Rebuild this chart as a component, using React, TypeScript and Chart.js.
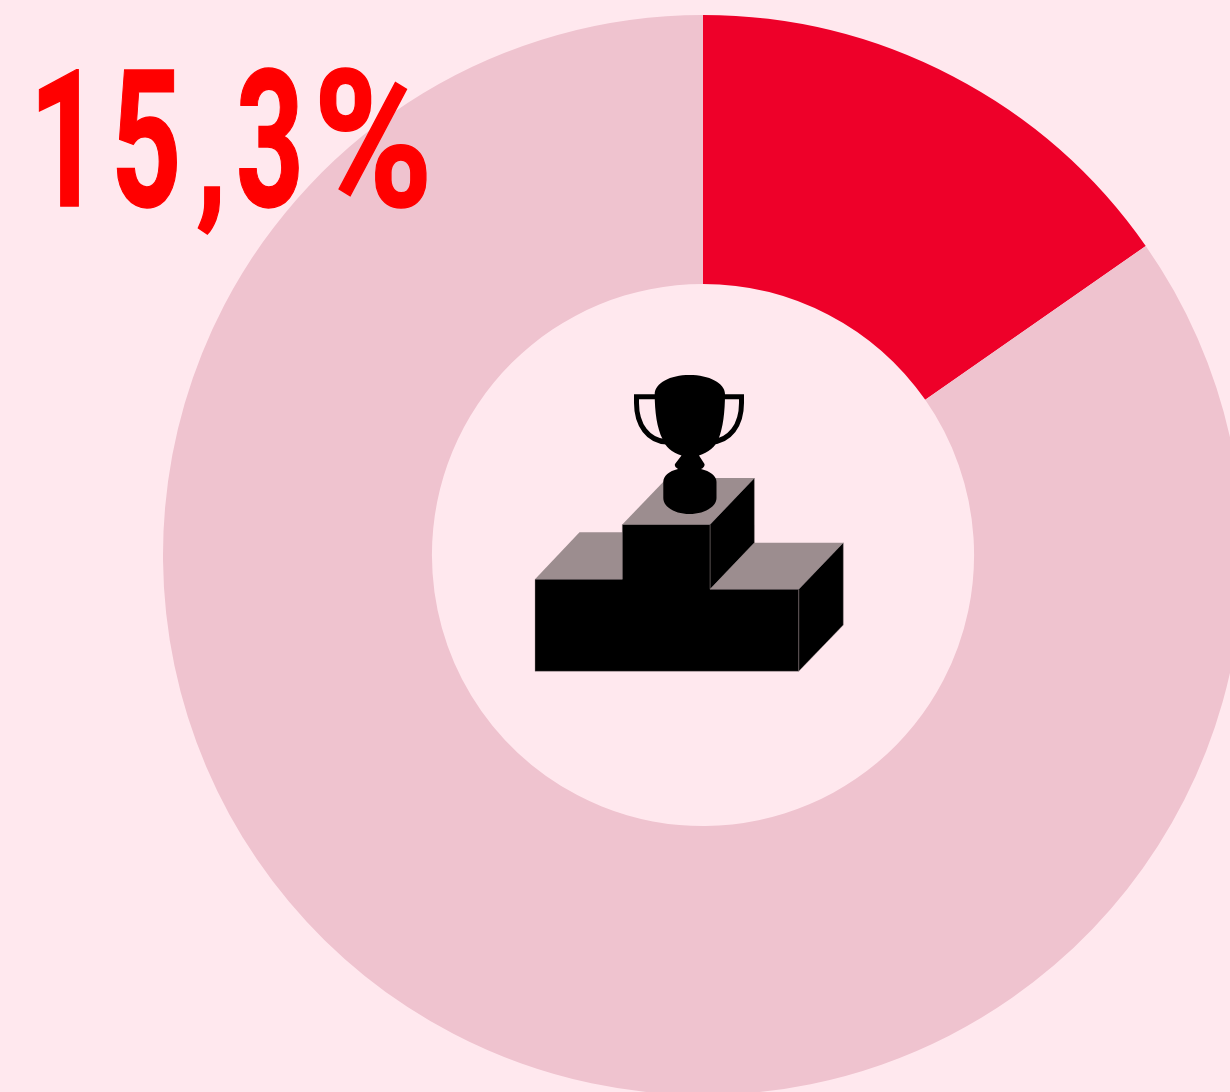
import React, { useEffect, useRef } from "react";
import { Chart, registerables } from "chart.js";

Chart.register(...registerables);

const categories = ["Podium", "Other"];
const shareValues = [15.3, 84.7];
const sliceColors = ["#EE0029", "#EFC3CF"];
const headlineGlyphs = ["1", "5", ",", "3", "%"];

const BG = "#FFE8EE";
const GREY = "#9C8D8F";

// Per-glyph fitting of the condensed headline: box width, horizontal scale, font size.
const glyphFit = [
  { w: 81.9, s: 0.66, size: 191 },
  { w: 85.4, s: 0.645, size: 191 },
  { w: 40.5, s: 0.78, size: 160 },
  { w: 76.5, s: 0.62, size: 191 },
  { w: 120, s: 0.85, size: 191 },
];

function TrophyIcon() {
  const edge = { stroke: GREY, strokeWidth: 0.4 };
  return (
    <svg
      width={1230}
      height={1092}
      viewBox="0 0 1230 1092"
      style={{ position: "absolute", left: 0, top: 0, pointerEvents: "none" }}
    >
      {/* podium tops */}
      <polygon points="535,579.3 579.5,532.3 622.3,532.3 622.3,579.3" fill={GREY} />
      <polygon points="622.3,524.5 667,478 754.4,478 710,524.5" fill={GREY} />
      <polygon points="710,589.3 754.4,542.7 843.3,542.7 798.7,589.3" fill={GREY} />
      {/* podium faces */}
      <polygon points="710,524.5 754.4,478 754.4,542.7 710,589.3" fill="#000" {...edge} />
      <polygon points="798.7,589.3 843.3,542.7 843.3,625 798.7,671.3" fill="#000" {...edge} />
      <polygon
        points="535,579.3 622.3,579.3 622.3,524.5 710,524.5 710,589.3 798.7,589.3 798.7,671.3 535,671.3"
        fill="#000"
        {...edge}
      />
      {/* handles */}
      <path
        d="M656,396.8 H636.5 V403 C636.5,425 648,441 667,442 M722,396.8 H741.5 V403 C741.5,425 730,441 711,442"
        fill="none"
        stroke="#000"
        strokeWidth={5}
      />
      {/* cup, stem, base */}
      <path
        d="M654.7,394 C655,383 670,375 689.5,375 C709,375 725,383 725,394
           C725,412 723,428 718.5,439 C716,446 708,453 699,455.5
           L704.5,464 Q705,467 701,469 C710,471 716.5,476 716.5,482
           V498 C716.5,507 704,514 689.5,514 C675,514 663.3,507 663.3,498
           V482 C663.3,476 669,471 678,469 Q674,467 675,464
           L681.5,455.5 C672,453 665,446 662.5,439 C657,428 654.7,412 654.7,394 Z"
        fill="#000"
      />
    </svg>
  );
}

export default function App() {
  const ref = useRef<HTMLCanvasElement>(null);

  useEffect(() => {
    if (!ref.current) return;
    const chart = new Chart(ref.current, {
      type: "doughnut",
      data: {
        labels: categories,
        datasets: [
          {
            data: shareValues,
            backgroundColor: sliceColors,
            borderWidth: 0,
            clip: false,
          },
        ],
      },
      options: {
        animation: false,
        responsive: false,
        events: [],
        radius: 540,
        cutout: "50.2%",
        layout: { padding: { left: 176, top: 18 } },
        plugins: { legend: { display: false }, tooltip: { enabled: false }, title: { display: false } },
      },
    });
    return () => chart.destroy();
  }, []);

  return (
    <div
      style={{
        position: "absolute",
        left: 0,
        top: 0,
        width: 1230,
        height: 1092,
        overflow: "hidden",
        background: BG,
      }}
    >
      <canvas ref={ref} width={1230} height={1092} style={{ display: "block" }} />
      <TrophyIcon />
      <div
        style={{
          position: "absolute",
          left: 28.7,
          top: 45,
          fontFamily: "Roboto, sans-serif",
          fontWeight: 700,
          lineHeight: "193px",
          fontSize: 191,
          color: "#FF0000",
          whiteSpace: "nowrap",
          WebkitTextStroke: "1.5px #FF0000",
        }}
      >
        {headlineGlyphs.map((g, i) => (
          <span
            key={i}
            style={{
              display: "inline-block",
              width: glyphFit[i].w,
              fontSize: glyphFit[i].size,
              transform: `scaleX(${glyphFit[i].s})`,
              transformOrigin: "left center",
            }}
          >
            {g}
          </span>
        ))}
      </div>
    </div>
  );
}
